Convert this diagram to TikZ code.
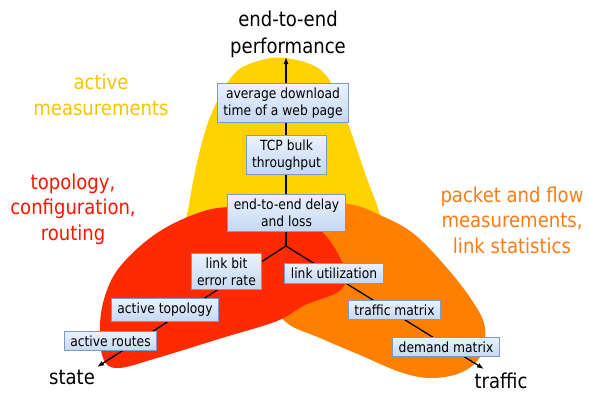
\documentclass[tikz,border=0pt]{standalone}
\usepackage{fontspec}
\setmainfont{DejaVu Sans}[FakeStretch=0.88]
\usetikzlibrary{arrows.meta}

\definecolor{blobyellow}{HTML}{FFD200}
\definecolor{blobred}{HTML}{FF2A00}
\definecolor{bloborange}{HTML}{FF7F00}
\definecolor{txtyellow}{HTML}{F7C400}
\definecolor{txtred}{HTML}{FF1400}
\definecolor{txtorange}{HTML}{FF7A14}
\definecolor{boxtop}{HTML}{EAF2FD}
\definecolor{boxbot}{HTML}{C4D8F2}
\definecolor{boxline}{HTML}{7A9ACB}

\tikzset{
  metric/.style={draw=boxline, line width=0.9pt, top color=boxtop, bottom color=boxbot,
    align=center, inner xsep=6pt, inner ysep=4.5pt,
    font=\fontsize{14}{17}\selectfont},
  axislabel/.style={align=center, inner sep=0pt, font=\fontsize{20.5}{27}\selectfont},
  arealabel/.style={align=center, inner sep=0pt, font=\fontsize{20.5}{25.5}\selectfont},
  axis/.style={line width=1.3pt, -{Latex[length=7pt,width=5pt]}}
}

\begin{document}
\begin{tikzpicture}[x=1pt,y=-1pt]
\useasboundingbox (0,0) rectangle (589,394);

% measurement areas
\fill[blobyellow] plot[smooth cycle, tension=0.6] coordinates {
  (285,58) (318,68) (336,92) (351,132) (366,176) (380,215) (386,252)
  (340,292) (240,292) (185,252) (189,205) (200,150) (213,110) (234,74) (258,61)};
\fill[bloborange] plot[smooth cycle, tension=0.6] coordinates {
  (300,210) (347,204) (382,216) (414,234) (447,268) (473,302) (485,328)
  (480,357) (460,373) (430,378) (400,372) (360,355) (320,338) (287,323)
  (272,298) (268,245)};
\fill[blobred] plot[smooth cycle, tension=0.6] coordinates {
  (232,207) (285,211) (318,228) (337,252) (346,276) (338,292) (305,305)
  (277,321) (222,338) (157,358) (118,368) (103,358) (100,323) (107,290)
  (123,263) (157,233) (198,213)};

% axes
\coordinate (fork) at (286,246);
\coordinate (perf) at (286,57);
\coordinate (statetip) at (97,367);
\coordinate (traffictip) at (484,369);
\draw[axis] (fork) -- (perf);
\draw[axis] (fork) -- (statetip);
\draw[axis] (fork) -- (traffictip);

% metrics along the axes
\node[metric] (web)   at (283,103) {average download\\time of a web page};
\node[metric] (tcp)   at (286.5,155) {TCP bulk\\throughput};
\node[metric] (delay) at (286.5,213) {end-to-end delay\\and loss};
\node[metric] (ber)   at (226.5,271.5) {link bit\\error rate};
\node[metric] (topo)  at (165,310) {active topology};
\node[metric] (routes) at (110.5,341) {active routes};
\node[metric] (util)  at (334,273.5) {link utilization};
\node[metric] (tm)    at (394.5,310) {traffic matrix};
\node[metric] (dm)    at (446,347) {demand matrix};

% axis names
\node[axislabel] (perflabel) at (288,34) {end-to-end\\performance};
\node[axislabel] (statelabel) at (72,377) {state};
\node[axislabel] (trafficlabel) at (501,381) {traffic};

% area names
\node[arealabel, text=txtyellow] (activelabel) at (101,95) {active\\measurements};
\node[arealabel, text=txtred] (topolabel) at (73,209) {topology,\\configuration,\\routing};
\node[arealabel, text=txtorange] (pktlabel) at (512,220) {packet and flow\\measurements,\\link statistics};
\end{tikzpicture}
\end{document}
